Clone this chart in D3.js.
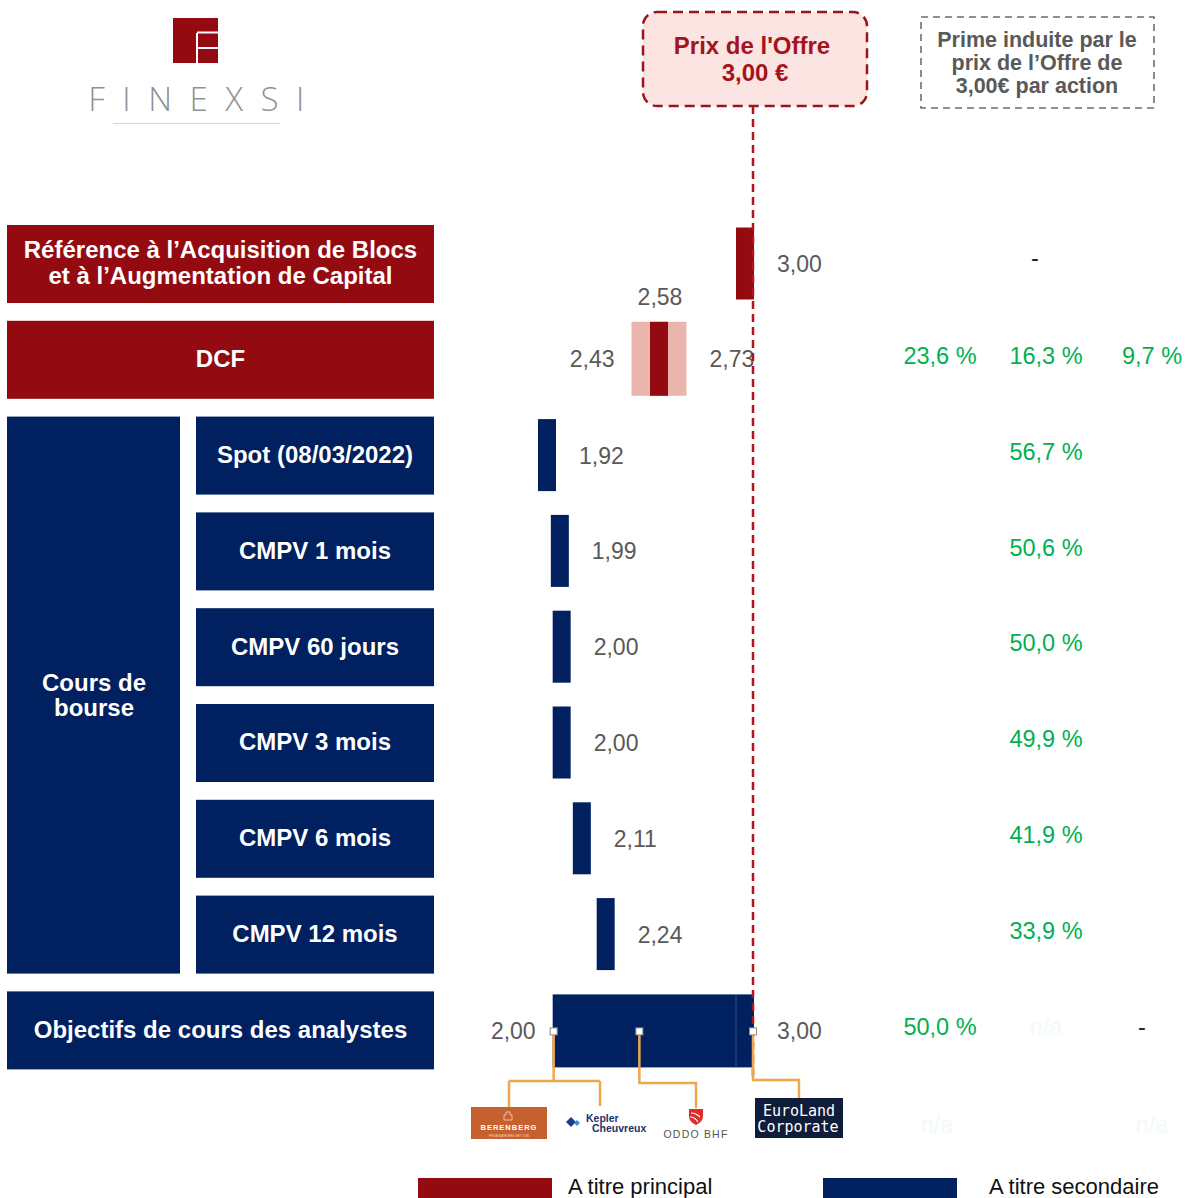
<!DOCTYPE html>
<html>
<head>
<meta charset="utf-8">
<script src="https://cdn.jsdelivr.net/npm/d3@7/dist/d3.min.js"></script>
<style>
  html, body { margin: 0; padding: 0; background: #ffffff; }
  svg { display: block; }
</style>
</head>
<body>
<svg id="chart" width="1194" height="1198"></svg>
<script>
// ---------------- DATA ----------------
const categories = [
  "Référence à l’Acquisition de Blocs|et à l’Augmentation de Capital",
  "DCF",
  "Spot (08/03/2022)",
  "CMPV 1 mois",
  "CMPV 60 jours",
  "CMPV 3 mois",
  "CMPV 6 mois",
  "CMPV 12 mois",
  "Objectifs de cours des analystes"
];
const methodType = ["principal", "principal", "secondaire", "secondaire", "secondaire", "secondaire", "secondaire", "secondaire", "secondaire"];
const values = [3.00, 2.58, 1.92, 1.99, 2.00, 2.00, 2.11, 2.24, null];
const dcfRange = [2.43, 2.73];
const analystRange = [2.00, 3.00];
const analystNames = ["Berenberg", "Kepler Cheuvreux", "ODDO BHF", "EuroLand Corporate"];
const analystTargets = [2.00, 2.00, 2.43, 3.00];
const offerPrice = 3.00;
const groupLabel = "Cours de|bourse";
const groupRows = [2, 7];
// premiums (bas / central / haut)
const premiumLow  = [null, "23,6 %", null, null, null, null, null, null, "50,0 %"];
const premiumMid  = ["-", "16,3 %", "56,7 %", "50,6 %", "50,0 %", "49,9 %", "41,9 %", "33,9 %", "n/a"];
const premiumHigh = [null, "9,7 %", null, null, null, null, null, null, "-"];
const legendLabels = ["A titre principal", "A titre secondaire"];

// ---------------- STYLE ----------------
const RED = "#930A10", NAVY = "#002060", PINK = "#E9B5AD", GREEN = "#00B050";
const GREY = "#595959", OFFER = "#B3131C", ORANGE = "#EFA74E";
const FONT = "'Liberation Sans', Arial, Helvetica, sans-serif";

const svg = d3.select("#chart");

// ---------------- SCALES ----------------
const x = d3.scaleLinear().domain([1.92, 3.00]).range([538, 736]);
const tickW = 18;
const rowStep = 95.8, rowH = 78, top0 = 225;
const n = categories.length;
const y = d3.scaleBand().domain(d3.range(n))
  .range([top0, top0 + rowStep * (n - 1) + rowH])
  .paddingInner(1 - rowH / rowStep).paddingOuter(0);
const bh = y.bandwidth();
const cy = i => y(i) + bh / 2;
const colX = d3.scalePoint().domain(["low", "mid", "high"]).range([940, 1152]);

// ---------------- LOGO ----------------
const logo = svg.append("g");
logo.append("rect").attr("x", 173).attr("y", 18).attr("width", 45).attr("height", 45).attr("fill", RED);
logo.append("path").attr("d", "M197,33 V63 M197,32.5 H218 M197,48 H218")
  .attr("stroke", "#fff").attr("stroke-width", 2).attr("fill", "none");
logo.append("text").attr("x", 205).attr("y", 111).attr("text-anchor", "middle")
  .attr("font-family", "'Open Sans', 'DejaVu Sans', sans-serif").attr("font-weight", 300)
  .attr("font-size", 33).attr("letter-spacing", 17.5).attr("fill", "#8C9398")
  .text("FINEXSI");
logo.append("line").attr("x1", 113).attr("x2", 280).attr("y1", 123.5).attr("y2", 123.5)
  .attr("stroke", "#D3D6D8").attr("stroke-width", 1.2);

// ---------------- LEFT LABEL BOXES ----------------
function multiText(g, lines, cx, cyy, size, lh, fill, weight) {
  const k0 = lines.length;
  lines.forEach((ln, k) => {
    g.append("text").attr("x", cx).attr("y", cyy + (k - (k0 - 1) / 2) * lh)
      .attr("dy", "0.35em").attr("text-anchor", "middle")
      .attr("font-family", FONT).attr("font-size", size).attr("font-weight", weight || "bold")
      .attr("fill", fill).text(ln);
  });
}
const boxes = svg.append("g");
categories.forEach((c, i) => {
  const inGroup = i >= groupRows[0] && i <= groupRows[1];
  const x0 = inGroup ? 196 : 7;
  const col = methodType[i] === "principal" ? RED : NAVY;
  boxes.append("rect").attr("x", x0).attr("y", y(i)).attr("width", 434 - x0).attr("height", bh).attr("fill", col);
  multiText(boxes, c.split("|"), (x0 + 434) / 2, cy(i) - 1, 24, 26, "#fff");
});
// group box
{
  const gy0 = y(groupRows[0]), gy1 = y(groupRows[1]) + bh;
  boxes.append("rect").attr("x", 7).attr("y", gy0).attr("width", 173).attr("height", gy1 - gy0).attr("fill", NAVY);
  multiText(boxes, groupLabel.split("|"), 94, (gy0 + gy1) / 2, 24, 25, "#fff");
}

// ---------------- BARS ----------------
const bars = svg.append("g");
const valFmt = v => d3.format(".2f")(v).replace(".", ",");
function valText(xx, yy, t, anchor) {
  bars.append("text").attr("x", xx).attr("y", yy).attr("dy", "0.35em")
    .attr("text-anchor", anchor || "start").attr("font-family", FONT)
    .attr("font-size", 23).attr("fill", GREY).text(t);
}
values.forEach((v, i) => {
  if (v == null) return;
  const col = methodType[i] === "principal" ? RED : NAVY;
  if (categories[i] === "DCF") {
    bars.append("rect").attr("x", x(dcfRange[0])).attr("y", y(i) + 1)
      .attr("width", x(dcfRange[1]) - x(dcfRange[0])).attr("height", bh - 4).attr("fill", PINK);
    bars.append("rect").attr("x", x(v) - tickW / 2).attr("y", y(i) + 1)
      .attr("width", tickW).attr("height", bh - 4).attr("fill", col);
    valText(x(dcfRange[0]) - 17, cy(i) - 1, valFmt(dcfRange[0]), "end");
    valText(x(dcfRange[1]) + 23, cy(i) - 1, valFmt(dcfRange[1]));
    valText(x(v) + 1, y(i) - 24, valFmt(v), "middle");
  } else {
    bars.append("rect").attr("x", x(v)).attr("y", y(i) + 2.5)
      .attr("width", tickW).attr("height", bh - 6).attr("fill", col);
    valText(x(v) + tickW + 23, cy(i), valFmt(v));
  }
});
// analysts range bar
const ai = n - 1;
const xa = d3.scaleLinear().domain(analystRange).range([x(analystRange[0]) + 1, x(analystRange[1]) + tickW - 1]);
bars.append("rect").attr("x", x(analystRange[0])).attr("y", y(ai) + 3)
  .attr("width", x(analystRange[1]) + tickW - x(analystRange[0])).attr("height", bh - 5).attr("fill", NAVY);
bars.append("line").attr("x1", x(analystRange[1])).attr("x2", x(analystRange[1]))
  .attr("y1", y(ai) + 3).attr("y2", y(ai) + bh - 2).attr("stroke", "#3A4F86").attr("stroke-width", 1);
valText(x(analystRange[0]) - 17, cy(ai) + 1, valFmt(analystRange[0]), "end");
valText(x(analystRange[1]) + tickW + 23, cy(ai) + 1, valFmt(analystRange[1]));

// ---------------- OFFER LINE + BOX ----------------
const xo = x(offerPrice) + 17;
svg.append("line").attr("x1", xo).attr("x2", xo).attr("y1", 106).attr("y2", 1076)
  .attr("stroke", OFFER).attr("stroke-width", 2.5).attr("stroke-dasharray", "8,5");
svg.append("rect").attr("x", 643).attr("y", 12).attr("width", 224).attr("height", 94).attr("rx", 14)
  .attr("fill", "#FBE4E2").attr("stroke", "#9A1419").attr("stroke-width", 2.5).attr("stroke-dasharray", "10,6");
svg.append("text").attr("x", 752).attr("y", 46).attr("dy", "0.35em").attr("text-anchor", "middle")
  .attr("font-family", FONT).attr("font-size", 24).attr("font-weight", "bold").attr("fill", "#A3141C").text("Prix de l'Offre");
svg.append("text").attr("x", 755).attr("y", 73).attr("dy", "0.35em").attr("text-anchor", "middle")
  .attr("font-family", FONT).attr("font-size", 24).attr("font-weight", "bold").attr("fill", "#A3141C")
  .text(valFmt(offerPrice) + " €");

// Prime box
svg.append("rect").attr("x", 921).attr("y", 17).attr("width", 233).attr("height", 91)
  .attr("fill", "none").attr("stroke", "#6E6E6E").attr("stroke-width", 1.6).attr("stroke-dasharray", "7,5");
multiText(svg, ["Prime induite par le", "prix de l’Offre de", valFmt(offerPrice) + "€ par action"], 1037, 62, 21.5, 23, "#595959");

// ---------------- PREMIUMS ----------------
const prem = svg.append("g");
function premText(xx, yy, t) {
  const isDash = t === "-";
  const isNA = t === "n/a";
  prem.append("text").attr("x", xx).attr("y", yy).attr("dy", "0.35em").attr("text-anchor", "middle")
    .attr("font-family", FONT).attr("font-size", 23.5)
    .attr("fill", isNA ? "#F3FAF7" : (isDash ? "#222" : GREEN)).text(t);
}
premiumLow.forEach((t, i) => { if (t) premText(colX("low"), cy(i) - 4, t); });
premiumMid.forEach((t, i) => { if (t) premText(colX("mid") - (t === "-" ? 11 : 0), cy(i) - 4 - (t === "-" ? 2 : 0), t); });
premiumHigh.forEach((t, i) => { if (t) premText(colX("high") - (t === "-" ? 10 : 0), cy(i) - 4, t); });
// faded n/a under analyst logos
premText(colX("low") - 3, 1125, "n/a");
premText(colX("high"), 1125, "n/a");

// ---------------- ANALYST CONNECTORS + LOGOS ----------------
const conn = svg.append("g").attr("fill", "none").attr("stroke", ORANGE).attr("stroke-width", 2.5);
const ym = cy(ai) + 1;
// Berenberg + Kepler share the 2.00 marker
conn.append("path").attr("d", `M${xa(analystTargets[0])},${ym} V1081 M509,1081 H600 M509,1081 V1108 M600,1081 V1106`);
conn.append("path").attr("d", `M${xa(analystTargets[2])},${ym} V1083 H696 V1108`);
conn.append("path").attr("d", `M${xa(analystTargets[3])},${ym} V1080 H799 V1098`);
[analystTargets[0], analystTargets[2], analystTargets[3]].forEach(v => {
  svg.append("rect").attr("x", xa(v) - 3.5).attr("y", ym - 3.5).attr("width", 7).attr("height", 7)
    .attr("fill", "#fff").attr("stroke", "#8A8A8A").attr("stroke-width", 1);
});
// Berenberg
const lg = svg.append("g");
lg.append("rect").attr("x", 471).attr("y", 1107).attr("width", 76).attr("height", 32).attr("fill", "#C6612F");
lg.append("path").attr("d", "M506,1112 h4 v3 h2 v5 h-8 v-5 h2 z").attr("fill", "none").attr("stroke", "#F3D3C0").attr("stroke-width", 0.8);
lg.append("text").attr("x", 509).attr("y", 1130).attr("text-anchor", "middle").attr("font-family", FONT)
  .attr("font-weight", "bold").attr("font-size", 7.5).attr("letter-spacing", 1).attr("fill", "#fff").text("BERENBERG");
lg.append("text").attr("x", 509).attr("y", 1136.5).attr("text-anchor", "middle").attr("font-family", FONT)
  .attr("font-size", 3).attr("fill", "#F3D3C0").text("PRIVATBANKIERS SEIT 1590");
// Kepler Cheuvreux
lg.append("path").attr("d", "M571,1117 l5,5 l-5,5 l-5,-5 z").attr("fill", "#1F3F8A");
lg.append("path").attr("d", "M577,1120 l3,3 l-3,3 l-3,-3 z").attr("fill", "#3A8FD9");
lg.append("text").attr("x", 586).attr("y", 1122).attr("font-family", "'Liberation Sans Narrow', " + FONT).attr("font-size", 10.5)
  .attr("font-weight", "bold").attr("fill", "#1E2F6B").text("Kepler");
lg.append("text").attr("x", 592).attr("y", 1132).attr("font-family", "'Liberation Sans Narrow', " + FONT).attr("font-size", 10.5)
  .attr("font-weight", "bold").attr("fill", "#1E2F6B").text("Cheuvreux");
// ODDO BHF
lg.append("path").attr("d", "M689,1109 h14 v7 q0,6 -7,9 q-7,-3 -7,-9 z").attr("fill", "#E02B2B");
lg.append("path").attr("d", "M691,1113 q5,0 9,4 M690,1117 q5,0 8,5").attr("fill", "none").attr("stroke", "#fff").attr("stroke-width", 1.2);
lg.append("text").attr("x", 696).attr("y", 1138).attr("text-anchor", "middle").attr("font-family", FONT)
  .attr("font-size", 10.5).attr("letter-spacing", 1.2).attr("fill", "#555").text("ODDO BHF");
// EuroLand Corporate
lg.append("rect").attr("x", 755).attr("y", 1098).attr("width", 88).attr("height", 40).attr("fill", "#0F1D3A");
lg.append("text").attr("x", 799).attr("y", 1116).attr("text-anchor", "middle").attr("font-family", "'DejaVu Sans Mono', monospace")
  .attr("font-size", 15).attr("fill", "#fff").text("EuroLand");
lg.append("text").attr("x", 798).attr("y", 1132).attr("text-anchor", "middle").attr("font-family", "'DejaVu Sans Mono', monospace")
  .attr("font-size", 15).attr("fill", "#fff").text("Corporate");

// ---------------- LEGEND ----------------
const leg = svg.append("g");
[[418, RED, legendLabels[0], 568], [823, NAVY, legendLabels[1], 989]].forEach(([lx, c, t, tx]) => {
  leg.append("rect").attr("x", lx).attr("y", 1178).attr("width", 134).attr("height", 22).attr("fill", c);
  leg.append("text").attr("x", tx).attr("y", 1194).attr("font-family", "'Liberation Sans Narrow', 'Arial Narrow', " + FONT)
    .attr("font-size", 22).attr("fill", "#111").text(t);
});
</script>
</body>
</html>
